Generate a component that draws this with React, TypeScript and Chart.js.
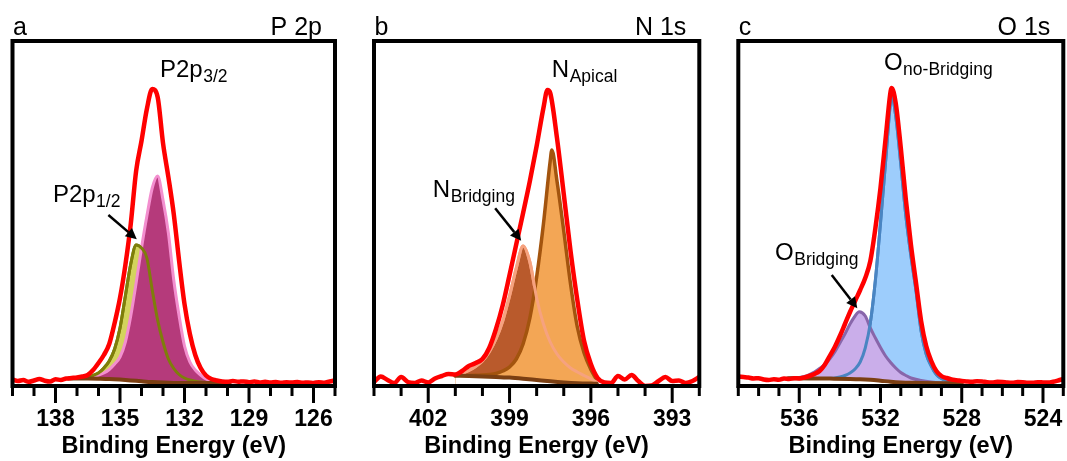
import React, { useEffect, useRef } from 'react';
import { Chart, registerables } from 'chart.js';

Chart.register(...registerables);

const FONT = '"Liberation Sans", Arial, Helvetica, sans-serif';
const W = 1067;
const H = 461;

// ---------- P 2p ----------
const p2pScanBE = [140, 139.75, 139.5, 139.25, 139, 138.75, 138.5, 138.25, 138, 137.75, 137.5, 137.25, 137, 136.75, 136.5, 136.25, 136, 135.75, 135.5, 135.25, 135, 134.75, 134.5, 134.25, 134, 133.75, 133.5, 133.25, 133, 132.75, 132.5, 132.25, 132, 131.75, 131.5, 131.25, 131, 130.75, 130.5, 130.25, 130, 129.75, 129.5, 129.25, 129, 128.75, 128.5, 128.25, 128, 127.75, 127.5, 127.25, 127, 126.75, 126.5, 126.25, 126, 125.75, 125.5, 125.25, 125];
const p2pScan = [6.5, 5, 6, 4.2, 5.5, 7, 5.3, 4.5, 6.8, 6, 7.5, 8, 8.5, 9.5, 11, 16, 23, 31, 42, 63, 88, 121, 162, 215, 245, 277, 297, 289, 243, 209, 172, 125, 82, 52, 31, 18, 10.5, 7, 5.5, 4.6, 4.2, 5, 4.2, 4.6, 3.8, 4.4, 3.6, 4.2, 3.5, 3.9, 3.3, 3.8, 3.4, 4, 3.2, 3.6, 3.1, 3.8, 3.3, 4.5, 5.5];
const p2pBackgroundBE = [137.4, 137, 136.5, 136, 135.5, 135, 134.5, 134, 133.5, 133, 132.5, 132, 131, 129.9];
const p2pBackground = [7.6, 7.6, 7.5, 7.3, 7.0, 6.4, 5.6, 4.7, 3.9, 3.4, 3.1, 3.0, 2.9, 2.9];
const p2pFitBE = [137, 136.75, 136.5, 136.25, 136, 135.75, 135.5, 135.25, 135, 134.75, 134.5, 134.25, 134, 133.75, 133.5, 133.25, 133, 132.75, 132.5, 132.25, 132, 131.75, 131.5, 131.25, 131, 130.75, 130.5, 130.25, 130];
const p2p32 = [7.8, 8.1, 8.5, 9.3, 11, 13, 16.5, 22, 29, 44, 70, 103, 138, 170, 198, 210, 186, 153, 106, 70, 40, 24, 16, 11, 7, 5, 4, 3.4, 3.0];
const p2p12 = [7.6, 7.9, 8.5, 10.5, 13, 18, 25, 37, 58, 90, 122, 141, 138, 128, 96, 66, 44, 27, 17.5, 11.5, 8, 6, 4.8, 4, 3.5, 3.2, 3.0, 2.95, 2.9];
const p2pTicks = [138, 135, 132, 129, 126];

// ---------- N 1s ----------
const n1sScanBE = [404, 403.75, 403.5, 403.25, 403, 402.75, 402.5, 402.25, 402, 401.75, 401.5, 401.25, 401, 400.75, 400.5, 400.25, 400, 399.75, 399.5, 399.25, 399, 398.75, 398.5, 398.25, 398, 397.75, 397.6, 397.5, 397.25, 397, 396.75, 396.5, 396.25, 396, 395.75, 395.5, 395.25, 395, 394.75, 394.5, 394.25, 394, 393.75, 393.5, 393.25, 393, 392.75, 392.5, 392.25, 392];
const n1sScan = [4, 9.5, 6, 3, 9, 4, 3, 5.5, 3.5, 7.5, 10, 12, 11.5, 15, 20, 23, 27, 38, 57, 81, 111, 142, 173, 205, 240, 278, 296, 293, 248, 192, 135, 86, 45, 22, 8, 3.5, 3, 10, 6.5, 11, 5, 0, 0.5, 5, 9, 5, 5.5, 3, 5, 9];
const n1sBackgroundBE = [401, 400.5, 400, 399.5, 399, 398.5, 398, 397.5, 397, 396.5, 396, 395.78];
const n1sBackground = [10.3, 10, 9.6, 9.1, 8.4, 7.3, 6, 4.7, 3.6, 2.8, 2.4, 2.3];
const nApicalBE = [401, 400.75, 400.5, 400.25, 400, 399.75, 399.5, 399.25, 399, 398.75, 398.5, 398.25, 398, 397.75, 397.5, 397.44, 397.25, 397, 396.75, 396.5, 396.25, 396, 395.8];
const nApical = [10.3, 10.3, 10.5, 10.7, 11, 11.5, 12.5, 15, 19, 27, 42, 68, 109, 162, 225, 236, 205, 155, 102, 59, 33, 16.5, 7];
const nBridgingBE = [401, 400.75, 400.5, 400.25, 400, 399.75, 399.5, 399.25, 399, 398.75, 398.5, 398.25, 398, 397.75, 397.5, 397.25, 397, 396.75, 396.5, 396.25, 396, 395.8];
const nBridging = [10.3, 12.5, 15.5, 19.5, 25, 34, 47, 65, 90, 118, 140, 124, 88, 62, 44, 32, 24, 18, 14, 10.5, 7, 4];
const n1sTicks = [402, 399, 396, 393];

// ---------- O 1s ----------
const o1sScanBE = [539, 538.75, 538.5, 538.25, 538, 537.75, 537.5, 537.25, 537, 536.75, 536.5, 536.25, 536, 535.75, 535.5, 535.25, 535, 534.75, 534.5, 534.25, 534, 533.75, 533.5, 533.25, 533, 532.75, 532.5, 532.25, 532, 531.75, 531.5, 531.45, 531.25, 531, 530.75, 530.5, 530.25, 530, 529.75, 529.5, 529.25, 529, 528.75, 528.5, 528.25, 528, 527.75, 527.5, 527.25, 527, 526.75, 526.5, 526.25, 526, 525.75, 525.5, 525.25, 525, 524.75, 524.5, 524.25, 524, 523.75, 523.5, 523.25, 523];
const o1sScan = [9.5, 9, 8.5, 7.5, 7.8, 6.5, 6, 6.8, 6.2, 7.5, 7, 7.8, 7.5, 8.5, 10, 12, 15, 21, 30, 39, 50, 62, 74, 85, 96, 108, 125, 158, 198, 247, 295, 298, 283, 238, 186, 141, 103, 65, 40, 25, 15, 10, 8, 6.5, 5.8, 5, 4.5, 4.2, 4.8, 4.5, 3.8, 3.6, 4.2, 4, 3.4, 3.2, 3.9, 3.8, 3.2, 3.2, 3.8, 3.6, 3.4, 4.2, 5.5, 7];
const o1sBackgroundBE = [536.55, 535.5, 534.5, 533.5, 533, 532.5, 532, 531.5, 531, 530.5, 530, 529, 528];
const o1sBackground = [7.7, 7.6, 7.4, 7.1, 6.8, 6.2, 5.3, 4.3, 3.6, 3.2, 3.0, 2.8, 2.7];
const oNoBridgingBE = [534.5, 534.25, 534, 533.75, 533.5, 533.25, 533, 532.75, 532.5, 532.25, 532, 531.75, 531.5, 531.45, 531.25, 531, 530.75, 530.5, 530.25, 530, 529.75, 529.5, 529.25, 529, 528.75, 528.5, 528.25, 528];
const oNoBridging = [7.5, 8, 9, 10.5, 13, 17, 24, 38, 63, 106, 163, 224, 285, 289, 270, 222, 170, 130, 95, 55, 32, 20, 11.5, 7.5, 5.5, 4.2, 3.5, 3];
const oBridgingBE = [536.5, 536, 535.75, 535.5, 535.25, 535, 534.75, 534.5, 534.25, 534, 533.75, 533.5, 533.25, 533.05, 532.75, 532.5, 532.25, 532, 531.75, 531.5, 531.25, 531, 530.75, 530.5, 530, 529.5, 529, 528.5];
const oBridging = [7.8, 8.5, 9.5, 11.5, 14, 17.5, 21.5, 27, 34, 43, 52, 62, 70, 74.3, 70, 58, 48, 38.5, 30, 23.5, 18, 13.5, 10.5, 8, 5.5, 4, 3.2, 2.8];
const o1sTicks = [536, 532, 528, 524];

const RED = '#ff0000';
const BROWN = '#7b3f12';

const pts = (be: number[], y: number[]) => be.map((x, i) => ({ x, y: y[i] }));

function curve(be: number[], y: number[], color: string, width: number, fillColor?: string) {
  return {
    data: pts(be, y),
    borderColor: color,
    borderWidth: width,
    backgroundColor: fillColor ?? 'rgba(0,0,0,0)',
    fill: fillColor ? 'origin' : false,
    pointRadius: 0,
    cubicInterpolationMode: 'monotone',
    borderJoinStyle: 'round',
    borderCapStyle: 'round',
  };
}

// datasets are listed top layer first
const panels = [
  {
    id: 'a',
    letter: 'a',
    element: 'P 2p',
    left: 12.5,
    right: 335,
    min: 125,
    max: 140,
    majors: p2pTicks,
    datasets: [
      curve(p2pScanBE, p2pScan, RED, 4.5),
      curve(p2pBackgroundBE, p2pBackground, BROWN, 4, '#ffffff'),
      curve(p2pFitBE, p2p12, '#7e7e0a', 3),
      curve(p2pFitBE, p2p32, '#f38fcf', 3, '#b53a7b'),
      curve(p2pFitBE, p2p12, '#7e7e0a', 3, '#d3d45c'),
    ],
    labels: [
      { main: 'P2p', sub: '3/2', be: 133.14, y: 309 },
      { main: 'P2p', sub: '1/2', be: 138.12, y: 184 },
    ],
    arrow: { from: [135.54, 171], to: [134.22, 146.7] },
  },
  {
    id: 'b',
    letter: 'b',
    element: 'N 1s',
    left: 374,
    right: 699.3,
    min: 392,
    max: 404,
    majors: n1sTicks,
    datasets: [
      curve(n1sScanBE, n1sScan, RED, 4.5),
      curve(n1sBackgroundBE, n1sBackground, BROWN, 4, '#ffffff'),
      curve(nBridgingBE, nBridging, '#f6a27f', 3),
      curve(nApicalBE, nApical, '#a3540e', 3.5, '#f3a655'),
      curve(nBridgingBE, nBridging, '#f6a27f', 3, '#b95a2c'),
    ],
    labels: [
      { main: 'N', sub: 'Apical', be: 397.44, y: 309.3 },
      { main: 'N', sub: 'Bridging', be: 401.83, y: 189 },
    ],
    arrow: { from: [399.53, 177.7], to: [398.57, 145.3] },
  },
  {
    id: 'c',
    letter: 'c',
    element: 'O 1s',
    left: 738.3,
    right: 1063.3,
    min: 523,
    max: 539,
    majors: o1sTicks,
    datasets: [
      curve(o1sScanBE, o1sScan, RED, 4.5),
      curve(o1sBackgroundBE, o1sBackground, BROWN, 4, '#ffffff'),
      curve(oNoBridgingBE, oNoBridging, '#4a85c2', 3),
      curve(oBridgingBE, oBridging, '#8866aa', 3, '#caaeea'),
      curve(oNoBridgingBE, oNoBridging, '#4a85c2', 3, '#9dcdfc'),
    ],
    labels: [
      { main: 'O', sub: 'no-Bridging', be: 531.83, y: 316 },
      { main: 'O', sub: 'Bridging', be: 537.19, y: 126 },
    ],
    arrow: { from: [534.4, 111], to: [533.14, 77.7] },
  },
];

function drawArrow(ctx: CanvasRenderingContext2D, x0: number, y0: number, x1: number, y1: number) {
  const ang = Math.atan2(y1 - y0, x1 - x0);
  const head = 11;
  const half = 5.5;
  const bx = x1 - head * Math.cos(ang);
  const by = y1 - head * Math.sin(ang);
  ctx.lineWidth = 2.5;
  ctx.beginPath();
  ctx.moveTo(x0, y0);
  ctx.lineTo(bx, by);
  ctx.stroke();
  ctx.beginPath();
  ctx.moveTo(x1, y1);
  ctx.lineTo(bx - half * Math.sin(ang), by + half * Math.cos(ang));
  ctx.lineTo(bx + half * Math.sin(ang), by - half * Math.cos(ang));
  ctx.closePath();
  ctx.fill();
}

const decor = {
  id: 'decor',
  afterDraw(chart: any, _args: any, o: any) {
    const { ctx, chartArea: a } = chart;
    const x = chart.scales.x;
    const y = chart.scales.y;
    ctx.save();
    ctx.strokeStyle = '#000';
    ctx.fillStyle = '#000';

    // tick marks: every 1 eV, longer at labelled values
    ctx.lineWidth = 3;
    ctx.lineCap = 'butt';
    for (let v = Math.ceil(x.min); v <= x.max; v++) {
      const px = x.getPixelForValue(v);
      const len = o.majors.includes(v) ? 17 : 10;
      ctx.beginPath();
      ctx.moveTo(px, a.bottom);
      ctx.lineTo(px, a.bottom + len);
      ctx.stroke();
    }

    // frame
    ctx.lineWidth = 4;
    ctx.lineJoin = 'miter';
    ctx.strokeRect(a.left, a.top, a.right - a.left, a.bottom - a.top);

    // panel letter and core level
    ctx.font = `25px ${FONT}`;
    ctx.textBaseline = 'alphabetic';
    ctx.textAlign = 'left';
    ctx.fillText(o.letter, a.left + 0.5, 35);
    ctx.textAlign = 'right';
    ctx.fillText(o.element, a.right - 13, 35);

    // peak labels with subscripts
    ctx.textAlign = 'left';
    for (const l of o.labels) {
      const px = x.getPixelForValue(l.be);
      const py = y.getPixelForValue(l.y);
      ctx.font = `24px ${FONT}`;
      ctx.fillText(l.main, px, py);
      const w = ctx.measureText(l.main).width;
      ctx.font = `17.5px ${FONT}`;
      ctx.fillText(l.sub, px + w + 0.5, py + 5);
    }

    drawArrow(
      ctx,
      x.getPixelForValue(o.arrow.from[0]),
      y.getPixelForValue(o.arrow.from[1]),
      x.getPixelForValue(o.arrow.to[0]),
      y.getPixelForValue(o.arrow.to[1]),
    );
    ctx.restore();
  },
};

function Panel({ cfg }: { cfg: any }) {
  const ref = useRef<HTMLCanvasElement>(null);
  useEffect(() => {
    const chart = new Chart(ref.current as HTMLCanvasElement, {
      type: 'line',
      data: { datasets: cfg.datasets as any },
      plugins: [decor as any],
      options: {
        animation: false,
        responsive: false,
        devicePixelRatio: 1,
        events: [],
        layout: { padding: { left: cfg.left, right: W - cfg.right, top: 41, bottom: 0 } },
        plugins: {
          legend: { display: false },
          tooltip: { enabled: false },
          decor: { letter: cfg.letter, element: cfg.element, labels: cfg.labels, arrow: cfg.arrow, majors: cfg.majors },
        } as any,
        scales: {
          x: {
            type: 'linear',
            reverse: true,
            min: cfg.min,
            max: cfg.max,
            afterBuildTicks: (s: any) => {
              s.ticks = cfg.majors.map((value: number) => ({ value }));
            },
            afterFit: (s: any) => {
              // fixed axis band; the frame sets the horizontal extent
              s.height = 75;
              s.paddingLeft = 0;
              s.paddingRight = 0;
              s.paddingTop = 0;
              s.paddingBottom = 0;
            },
            grid: { display: false, drawTicks: false },
            border: { display: false },
            ticks: {
              color: '#000',
              autoSkip: false,
              maxRotation: 0,
              padding: 20,
              font: { family: FONT, size: 23, weight: 'bold' },
            },
            title: {
              display: true,
              text: 'Binding Energy (eV)',
              color: '#000',
              padding: 0,
              font: { family: FONT, size: 23.5, weight: 'bold', lineHeight: 1.2 },
            },
          },
          y: { type: 'linear', display: false, min: 0, max: 345 },
        },
      } as any,
    });
    return () => chart.destroy();
  }, [cfg]);
  return <canvas ref={ref} width={W} height={H} style={{ position: 'absolute', left: 0, top: 0 }} />;
}

export default function App() {
  useEffect(() => {
    document.body.style.margin = '0';
  }, []);
  return (
    <div style={{ position: 'relative', width: W, height: H, background: '#ffffff' }}>
      {panels.map((p) => (
        <Panel key={p.id} cfg={p} />
      ))}
    </div>
  );
}
